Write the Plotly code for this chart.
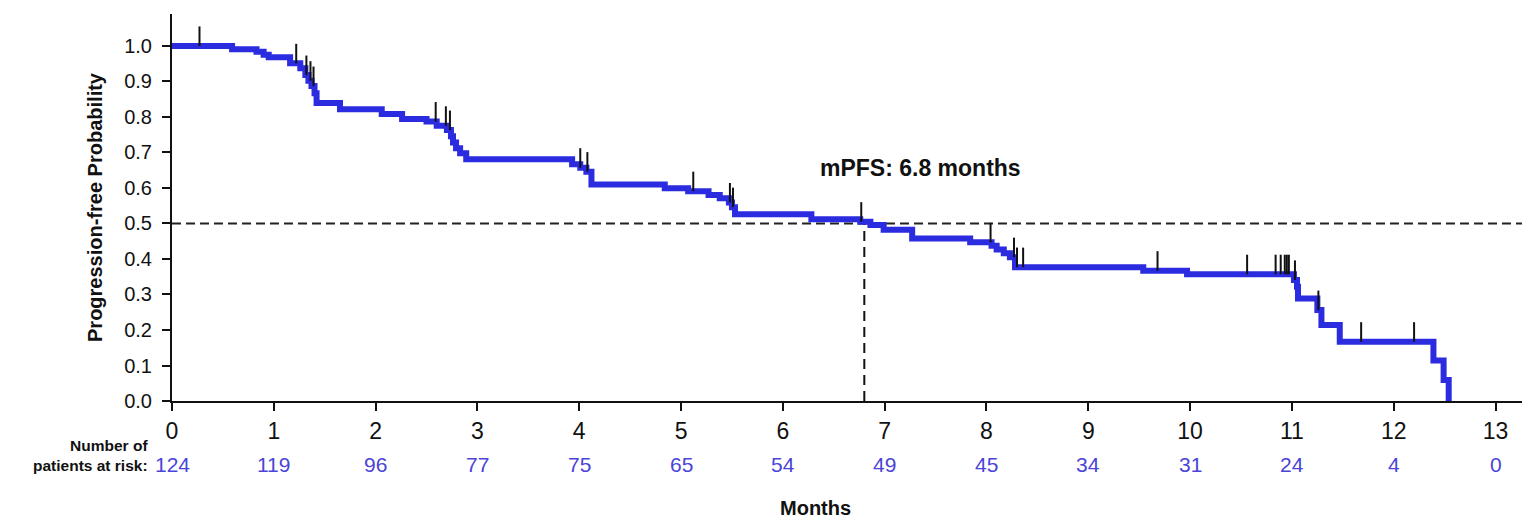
import numpy as np
import plotly.graph_objects as go

# ---- data ----
event_times = [0.0, 0.59, 0.83, 0.90, 0.95, 1.16, 1.26, 1.31, 1.34, 1.37, 1.40, 1.42, 1.65,
               2.06, 2.26, 2.50, 2.60, 2.70, 2.74, 2.76, 2.79, 2.83, 2.89,
               3.93, 4.01, 4.07, 4.12, 4.84, 5.07, 5.27, 5.38, 5.47, 5.50, 5.53,
               6.28, 6.76, 6.86, 6.99, 7.27, 7.84, 8.05, 8.10, 8.17, 8.23, 8.28,
               9.54, 9.97, 11.02, 11.05, 11.06, 11.25, 11.29, 11.47, 12.39, 12.49, 12.54]
surv_levels = [1.0, 0.991, 0.984, 0.975, 0.968, 0.951, 0.937, 0.918, 0.902, 0.887, 0.867, 0.839, 0.822,
               0.808, 0.794, 0.787, 0.775, 0.763, 0.746, 0.728, 0.712, 0.698, 0.681,
               0.667, 0.657, 0.646, 0.610, 0.599, 0.591, 0.580, 0.571, 0.559, 0.546, 0.526,
               0.512, 0.505, 0.496, 0.482, 0.458, 0.447, 0.437, 0.427, 0.416, 0.405, 0.377,
               0.367, 0.357, 0.341, 0.322, 0.289, 0.256, 0.214, 0.167, 0.114, 0.059, 0.0]
censor_times = [0.27, 1.22, 1.32, 1.36, 1.39, 2.59, 2.69, 2.73, 4.01, 4.08, 5.12, 5.48, 5.51,
                6.77, 8.04, 8.27, 8.30, 8.36, 9.68, 10.56, 10.84, 10.89, 10.93, 10.95, 10.97,
                11.03, 11.26, 11.68, 12.20]
median_pfs = 6.8
risk_times = list(range(0, 14))
risk_counts = [124, 119, 96, 77, 75, 65, 54, 49, 45, 34, 31, 24, 4, 0]
x_ticks = list(range(0, 14))
y_ticks = [round(0.1 * i, 1) for i in range(11)]

# ---- styles ----
FONT = "Arial, 'Liberation Sans', sans-serif"
BLUE = "#2b2be0"
RISK_BLUE = "#4a44d8"
X_MAX = 13.26
Y_MAX = 1.09

# censor mark levels from step function
et = np.array(event_times)
sl = np.array(surv_levels)
censor_levels = [float(sl[np.searchsorted(et, c, side="right") - 1]) for c in censor_times]

fig = go.Figure()

# median dashed lines
fig.add_trace(go.Scatter(x=[0, X_MAX], y=[0.5, 0.5], mode="lines",
                         line=dict(color="#222", width=2, dash="9px,5px"),
                         hoverinfo="skip", showlegend=False, cliponaxis=False))
fig.add_trace(go.Scatter(x=[median_pfs, median_pfs], y=[0, 0.5], mode="lines",
                         line=dict(color="#111", width=2, dash="10px,6px"),
                         hoverinfo="skip", showlegend=False))

# KM step curve
fig.add_trace(go.Scatter(x=event_times, y=surv_levels, mode="lines",
                         line=dict(color=BLUE, width=6, shape="hv"),
                         showlegend=False))

# censor marks (vertical ticks above the curve)
fig.add_trace(go.Scatter(x=censor_times, y=censor_levels, mode="markers",
                         marker=dict(size=1, color="rgba(0,0,0,0)"),
                         error_y=dict(type="data", symmetric=False,
                                      array=[0.055] * len(censor_times),
                                      arrayminus=[0] * len(censor_times),
                                      color="#111", thickness=2, width=0),
                         showlegend=False))

annotations = []
for t, n in zip(risk_times, risk_counts):
    annotations.append(dict(x=t, y=-0.165, xref="x", yref="paper", text=str(n),
                            showarrow=False, xanchor="center", yanchor="middle",
                            font=dict(family=FONT, size=21, color=RISK_BLUE)))
annotations.append(dict(x=-0.016, y=-0.14, xref="paper", yref="paper",
                        text="<b>Number of<br>patients at risk:</b>", showarrow=False,
                        xanchor="right", yanchor="middle", align="right",
                        font=dict(family=FONT, size=15.5, color="#111")))
annotations.append(dict(x=0.477, y=-0.276, xref="paper", yref="paper",
                        text="<b>Months</b>", showarrow=False,
                        xanchor="center", yanchor="middle",
                        font=dict(family=FONT, size=20, color="#111")))
annotations.append(dict(x=7.35, y=0.656, xref="x", yref="y",
                        text="<b>mPFS: 6.8 months</b>", showarrow=False,
                        xanchor="center", yanchor="middle",
                        font=dict(family=FONT, size=23, color="#111")))

fig.update_layout(
    width=1522, height=527,
    margin=dict(l=172, r=0, t=14, b=126),
    paper_bgcolor="white", plot_bgcolor="white",
    font=dict(family=FONT, color="#111"),
    annotations=annotations,
    xaxis=dict(range=[0, X_MAX], tickvals=x_ticks, ticktext=[str(v) for v in x_ticks],
               showgrid=False, zeroline=False, showline=True, linecolor="#111", linewidth=2,
               ticks="outside", ticklen=8, tickwidth=2, tickcolor="#111",
               tickfont=dict(family=FONT, size=23, color="#111")),
    yaxis=dict(range=[0, Y_MAX], tickvals=y_ticks, ticktext=[f"{v:.1f}" for v in y_ticks],
               showgrid=False, zeroline=False, showline=True, linecolor="#111", linewidth=2,
               ticks="outside", ticklen=8, tickwidth=2, tickcolor="#111",
               ticklabelstandoff=6,
               tickfont=dict(family=FONT, size=20, color="#111")),
)
fig.update_yaxes(title=dict(text="<b>Progression-free Probability</b>", standoff=16,
                            font=dict(family=FONT, size=20, color="#111")))

fig.write_html("out.html")
